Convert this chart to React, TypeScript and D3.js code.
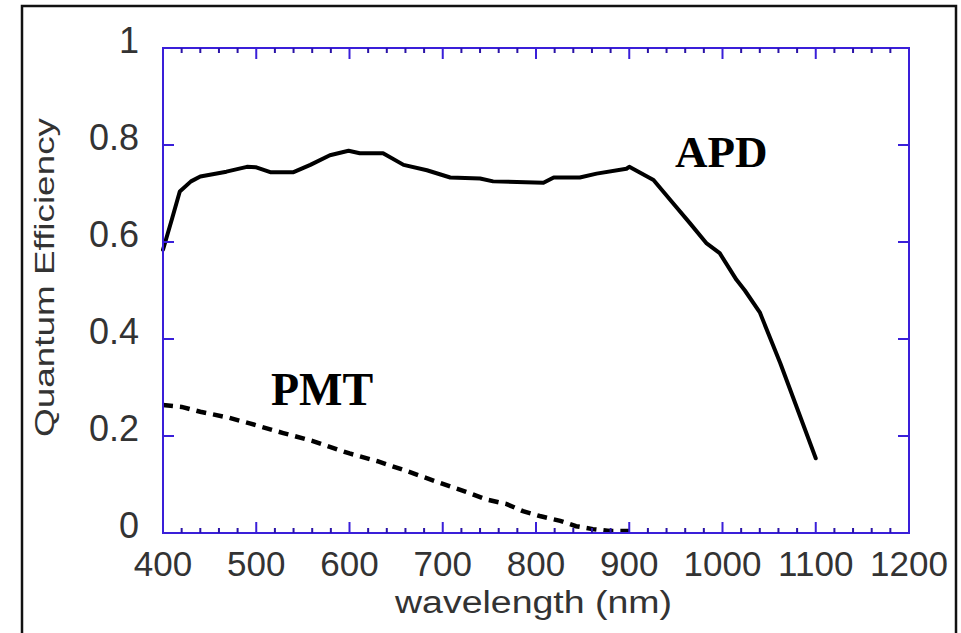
import React from "react";
import * as d3 from "d3";

const apdWavelength = [400, 410, 418, 430, 440, 468, 490, 500, 515, 540, 558, 579, 599, 611, 636, 658, 683, 708, 740, 754, 808, 819, 847, 865, 897, 900, 926, 947, 965, 983, 997, 1015, 1024, 1040, 1062, 1100];
const apdQE = [0.584, 0.65, 0.704, 0.725, 0.735, 0.745, 0.755, 0.754, 0.744, 0.744, 0.759, 0.779, 0.788, 0.783, 0.783, 0.759, 0.748, 0.733, 0.731, 0.725, 0.722, 0.733, 0.733, 0.741, 0.751, 0.755, 0.728, 0.68, 0.639, 0.597, 0.577, 0.522, 0.5, 0.455, 0.35, 0.154];

const pmtWavelength = [400, 420, 440, 470, 493, 529, 560, 600, 630, 658, 680, 708, 725, 747, 768, 786, 804, 826, 843, 861, 879, 900];
const pmtQE = [0.264, 0.26, 0.25, 0.238, 0.226, 0.206, 0.19, 0.164, 0.148, 0.13, 0.115, 0.096, 0.085, 0.069, 0.06, 0.045, 0.035, 0.025, 0.014, 0.008, 0.004, 0.004];

const xTickValues = [400, 500, 600, 700, 800, 900, 1000, 1100, 1200];
const xTickLabels = ["400", "500", "600", "700", "800", "900", "1000", "1100", "1200"];
const yTickValues = [0, 0.2, 0.4, 0.6, 0.8, 1];
const yTickLabels = ["0", "0.2", "0.4", "0.6", "0.8", "1"];

const seriesLabels = ["APD", "PMT"];

export default function App() {
  const W = 961, H = 633;
  const left = 163, right = 909, top = 48, bottom = 533;
  const x = d3.scaleLinear().domain([400, 1200]).range([left, right]);
  const y = d3.scaleLinear().domain([0, 1]).range([bottom, top]);
  const blue = "#3a1fd9";
  const minorTicks = d3.range(400, 1201, 20).filter((v) => v % 100 !== 0);

  const line = d3.line<[number, number]>().x((d) => x(d[0])).y((d) => y(d[1]));
  const apdPath = line(apdWavelength.map((w, i) => [w, apdQE[i]] as [number, number])) || "";
  const pmtPath = line(pmtWavelength.map((w, i) => [w, pmtQE[i]] as [number, number])) || "";

  const sans = "'Liberation Sans', Arial, sans-serif";
  const serif = "'Liberation Serif', 'Times New Roman', serif";
  const textColor = "#333";

  return (
    <svg width={W} height={H} style={{ position: "absolute", left: 0, top: 0, background: "#fff" }}>
      <rect x={0} y={0} width={W} height={H} fill="#fff" />
      <rect x={22} y={6} width={934} height={680} fill="none" stroke="#111" strokeWidth={2.5} />

      {/* curves */}
      <path d={apdPath} fill="none" stroke="#000" strokeWidth={4} strokeLinejoin="round" strokeLinecap="round" />
      <path d={pmtPath} fill="none" stroke="#000" strokeWidth={4.5} strokeDasharray="10 7" />

      {/* plot box */}
      <rect x={left} y={top} width={right - left} height={bottom - top} fill="none" stroke={blue} strokeWidth={2} />

      {/* x ticks */}
      {xTickValues.map((v) => (
        <g key={"xm" + v}>
          <line x1={x(v)} x2={x(v)} y1={bottom} y2={bottom - 11} stroke={blue} strokeWidth={2} />
          <line x1={x(v)} x2={x(v)} y1={top} y2={top + 11} stroke={blue} strokeWidth={2} />
        </g>
      ))}
      {minorTicks.map((v) => (
        <g key={"xn" + v}>
          <line x1={x(v)} x2={x(v)} y1={bottom} y2={bottom - 5} stroke="#2a13a8" strokeWidth={2} />
          <line x1={x(v)} x2={x(v)} y1={top} y2={top + 5} stroke="#2a13a8" strokeWidth={2} />
        </g>
      ))}
      {/* y ticks */}
      {yTickValues.map((v) => (
        <g key={"y" + v}>
          <line x1={left} x2={left + 11} y1={y(v)} y2={y(v)} stroke={blue} strokeWidth={2} />
          <line x1={right} x2={right - 11} y1={y(v)} y2={y(v)} stroke={blue} strokeWidth={2} />
        </g>
      ))}

      {/* tick labels */}
      {xTickValues.map((v, i) => (
        <text key={"xl" + v} x={x(v)} y={576} textAnchor="middle" fontFamily={sans} fontSize={35} fill={textColor}>
          {xTickLabels[i]}
        </text>
      ))}
      {yTickValues.map((v, i) => (
        <text key={"yl" + v} x={139} y={y(v) + 5} textAnchor="end" fontFamily={sans} fontSize={36} fill={textColor}>
          {yTickLabels[i]}
        </text>
      ))}

      {/* axis titles */}
      <text x={395} y={613} fontFamily={sans} fontSize={31} fill={textColor} textLength={277} lengthAdjust="spacingAndGlyphs">
        wavelength (nm)
      </text>
      <text
        transform={`translate(54, 437) rotate(-90)`}
        x={0}
        y={0}
        fontFamily={sans}
        fontSize={28}
        fill={textColor}
        textLength={319}
        lengthAdjust="spacingAndGlyphs"
      >
        Quantum Efficiency
      </text>

      {/* series labels */}
      <text x={675} y={167} fontFamily={serif} fontWeight="bold" fontSize={45} fill="#000">
        {seriesLabels[0]}
      </text>
      <text x={271} y={405} fontFamily={serif} fontWeight="bold" fontSize={46} fill="#000">
        {seriesLabels[1]}
      </text>
    </svg>
  );
}
